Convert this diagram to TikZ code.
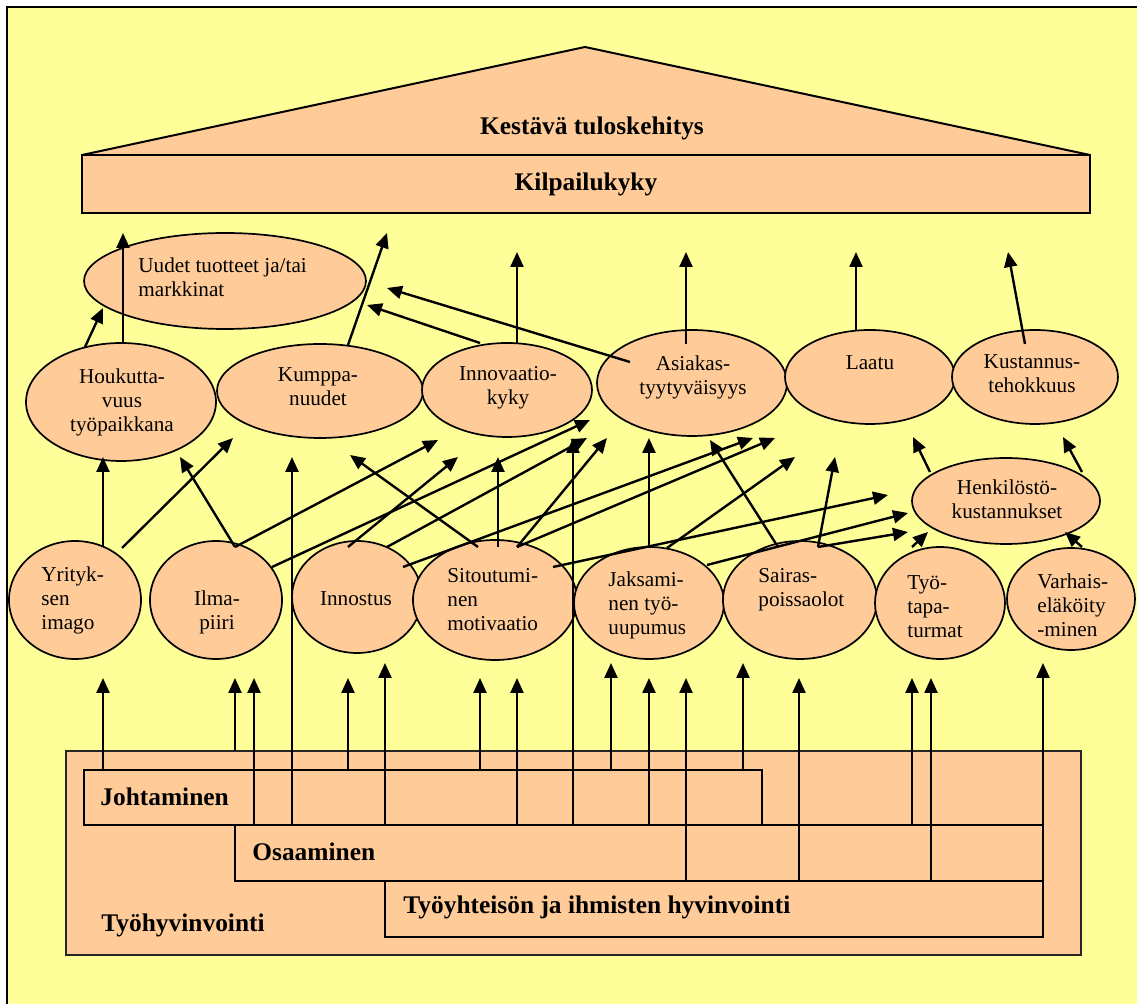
\documentclass[tikz,border=0pt]{standalone}
\usepackage{fontspec}
\setmainfont{Liberation Serif}
\usetikzlibrary{arrows.meta,shapes.geometric}
\definecolor{paper}{HTML}{FFFF99}
\definecolor{peach}{HTML}{FFCC99}

% arrow between two points given as offsets from node centres
\newcommand\linkto[6]{\draw[arr] ([shift={(#2,#3)}]#1.center) -- ([shift={(#5,#6)}]#4.center);}
% vertical arrow rising from a panel edge to a point below an ellipse
\newcommand\riser[5]{\coordinate (#1) at ([shift={(#3,#4)}]#2.center); \draw[arr] (#1 |- #5) -- (#1);}

\begin{document}
\begin{tikzpicture}[x=0.5pt,y=-0.5pt,
  blob/.style 2 args={ellipse,draw=black,line width=0.85pt,fill=peach,inner sep=0pt,outer sep=0pt,minimum width=#1pt,minimum height=#2pt},
  panel/.style 2 args={rectangle,draw=black,line width=0.8pt,fill=peach,inner sep=0pt,outer sep=0pt,minimum width=#1pt,minimum height=#2pt},
  txt/.style={font=\fontsize{10.6pt}{12pt}\selectfont,align=center,inner sep=0pt},
  txtl/.style={txt,align=left,anchor=west},
  head/.style={font=\fontsize{12.7pt}{15pt}\selectfont\bfseries,inner sep=0pt},
  headl/.style={head,anchor=west},
  arr/.style={line width=1.2pt,-{Triangle[length=7.5pt,width=6.5pt]}}]

\useasboundingbox (0,0) rectangle (1137,1004);
\fill[white] (0,0) rectangle (1137,1004);
\fill[paper] (7,7) rectangle (1137,1004);
\draw[line width=1pt] (7,1004) -- (7,7) -- (1137,7);

% roof and beam
\fill[peach] (82,155) -- (585,47) -- (1090,155) -- cycle;
\draw[line width=1pt,line join=round,line cap=round] (82,155) -- (585,47) -- (1090,155);
\node[panel={504}{29},line width=1pt] (kil) at (586,184) {};
\node[head] (kes) at (592,128) {Kestävä tuloskehitys};
\node[head] (kill) at (586,184) {Kilpailukyky};

% foundation panels
\node[panel={507.5}{102},anchor=north west,draw=black!85,line width=0.6pt] (tyh) at (66,751) {};
\node[panel={339}{27.5},anchor=north west] (joh) at (84,770) {};
\node[panel={404}{28},anchor=north west] (osa) at (235,825) {};
\node[panel={329}{28},anchor=north west] (tyy) at (385,881) {};
\node[headl] (johl) at (100,797) {Johtaminen};
\node[headl] (osal) at (252,852) {Osaaminen};
\node[headl] (tyyl) at (403,907) {Työyhteisön ja ihmisten hyvinvointi};
\node[headl] (tyhl) at (101,925) {Työhyvinvointi};

% upper row
\node[blob={141}{48}] (uud) at (225,281) {};
\node[blob={95}{59}] (hou) at (121,402) {};
\node[blob={103}{47}] (kum) at (320,391) {};
\node[blob={85}{47}] (inn) at (507,390) {};
\node[blob={95}{53}] (asi) at (692,383) {};
\node[blob={85}{47}] (laa) at (870,377) {};
\node[blob={83}{47}] (kus) at (1035,377) {};
\node[blob={94}{43}] (hen) at (1006,501) {};
% lower row
\node[blob={66}{59}] (yri) at (75,600) {};
\node[blob={66}{59}] (ilm) at (216,600) {};
\node[blob={65}{56}] (ins) at (357,597) {};
\node[blob={82}{60}] (sit) at (495,600) {};
\node[blob={75}{56}] (jak) at (649,603) {};
\node[blob={77}{59}] (sai) at (800,600) {};
\node[blob={65}{56}] (tap) at (940,603) {};
\node[blob={64}{51}] (var) at (1071,599) {};

% ellipse texts
\node[txtl] (uudt) at (138,277) {Uudet tuotteet ja/tai\\markkinat};
\node[txt] (hout) at (122,402) {Houkutta-\\vuus\\työpaikkana};
\node[txt] (kumt) at (318,387) {Kumppa-\\nuudet};
\node[txt] (innt) at (508,388) {Innovaatio-\\kyky};
\node[txt] (asit) at (693,377) {Asiakas-\\tyytyväisyys};
\node[txt] (laat) at (870,363) {Laatu};
\node[txt] (kust) at (1032,374) {Kustannus-\\tehokkuus};
\node[txt] (hent) at (1007,499) {Henkilöstö-\\kustannukset};
\node[txtl] (yrit) at (41,600) {Yrityk-\\sen\\imago};
\node[txt] (ilmt) at (217,612) {Ilma-\\piiri};
\node[txt] (inst) at (356,599) {Innostus};
\node[txtl] (sitt) at (447,600) {Sitoutumi-\\nen\\motivaatio};
\node[txtl] (jakt) at (608,605) {Jaksami-\\nen työ-\\uupumus};
\node[txtl] (sait) at (758,590) {Sairas-\\poissaolot};
\node[txtl] (tapt) at (907,607) {Työ-\\tapa-\\turmat};
\node[txtl] (vart) at (1037,605) {Varhais-\\eläköity\\-minen};

% arrows from the foundation
\riser{r1}{yri}{28}{78}{joh.north}
\riser{r2}{ilm}{19}{78}{tyh.north}
\riser{r3}{ilm}{38}{78}{osa.north}
\riser{r4}{kum}{-28}{66}{osa.north}
\riser{r5}{ins}{-9}{81}{joh.north}
\riser{r6}{ins}{28}{66}{osa.north}
\riser{r7}{sit}{-15}{78}{joh.north}
\riser{r8}{sit}{22}{78}{osa.north}
\riser{r9}{inn}{66}{48}{osa.north}
\riser{r10}{jak}{-38}{60}{joh.north}
\riser{r11}{jak}{0}{75}{osa.north}
\riser{r12}{jak}{37}{75}{tyy.north}
\riser{r13}{sai}{-57}{63}{joh.north}
\riser{r14}{sai}{-1}{78}{tyy.north}
\riser{r15}{tap}{-28}{75}{osa.north}
\riser{r16}{tap}{-9}{75}{tyy.north}
\riser{r17}{var}{-28}{64}{tyy.south}

% lower row to upper row
\linkto{yri}{28}{-53}{hou}{-18}{55}
\linkto{yri}{47}{-52}{kum}{-87}{47}
\linkto{ilm}{19}{-53}{hou}{59}{55}
\linkto{ilm}{19}{-53}{inn}{-69}{50}
\linkto{ilm}{56}{-33}{asi}{-102}{37}
\linkto{ins}{-9}{-50}{inn}{-49}{67}
\linkto{ins}{30}{-50}{asi}{-105}{55}
\linkto{ins}{46}{-30}{asi}{61}{55}
\linkto{sit}{-17}{-53}{kum}{30}{64}
\linkto{sit}{3}{-53}{inn}{-9}{67}
\linkto{sit}{22}{-53}{asi}{-85}{55}
\linkto{sit}{22}{-53}{asi}{83}{55}
\linkto{sit}{58}{-33}{hen}{-118}{-6}
\linkto{jak}{0}{-56}{asi}{-43}{55}
\linkto{jak}{18}{-55}{laa}{-75}{80}
\linkto{jak}{58}{-38}{hen}{-98}{12}
\linkto{sai}{-22}{-53}{asi}{18}{57}
\linkto{sai}{18}{-53}{laa}{-35}{80}
\linkto{sai}{18}{-53}{hen}{-98}{31}
\linkto{tap}{-28}{-56}{hen}{-78}{31}
\linkto{var}{11}{-52}{hen}{59}{31}
\linkto{hen}{-76}{-29}{laa}{43}{60}
\linkto{hen}{76}{-29}{kus}{28}{60}

% upper row to the top
\linkto{hou}{-36}{-55}{uud}{-122}{27}
\linkto{hou}{2}{-59}{kil}{-463}{49}
\linkto{kum}{28}{-46}{kil}{-199}{49}
\linkto{inn}{-27}{-47}{uud}{142}{24}
\linkto{asi}{-62}{-21}{uud}{162}{7}
\linkto{inn}{10}{-47}{kil}{-69}{68}
\linkto{asi}{-6}{-39}{kil}{100}{68}
\linkto{laa}{-14}{-47}{kil}{270}{68}
\linkto{kus}{-10}{-33}{kil}{422}{68}
\end{tikzpicture}
\end{document}
